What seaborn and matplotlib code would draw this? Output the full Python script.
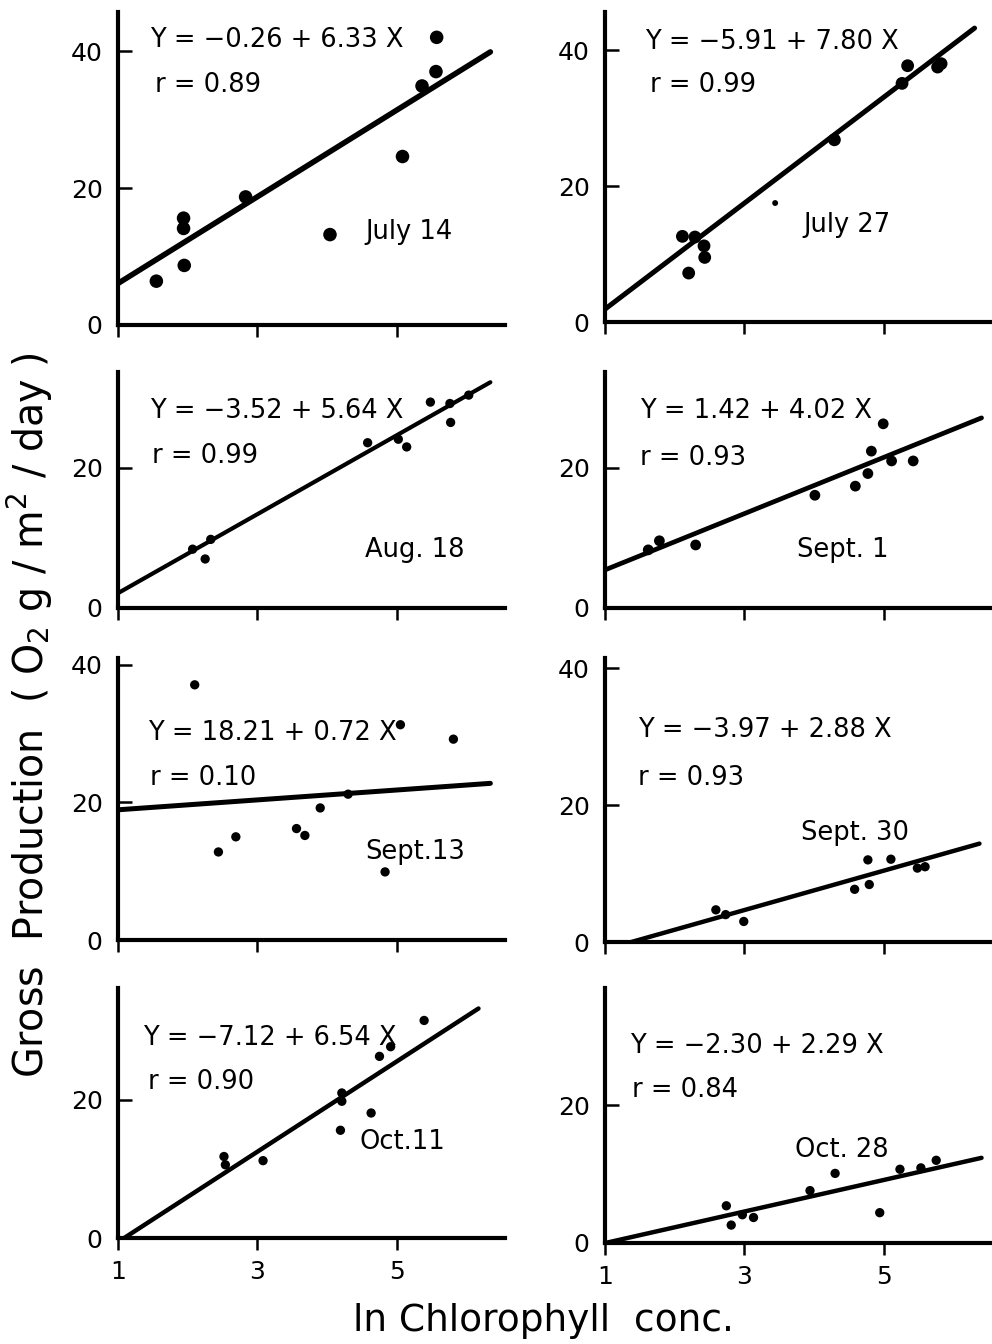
import matplotlib.pyplot as plt
import numpy as np
import pandas as pd
import seaborn as sns

# ---- data ----
dates = ["July 14", "July 27", "Aug. 18", "Sept. 1", "Sept.13", "Sept. 30", "Oct.11", "Oct. 28"]
intercepts = [-0.26, -5.91, -3.52, 1.42, 18.21, -3.97, -7.12, -2.30]
slopes = [6.33, 7.80, 5.64, 4.02, 0.72, 2.88, 6.54, 2.29]
r_values = [0.89, 0.99, 0.99, 0.93, 0.10, 0.93, 0.90, 0.84]
line_x_end = [6.34, 6.30, 6.34, 6.40, 6.34, 6.37, 6.17, 6.40]

july14_x = [1.55, 1.95, 1.94, 1.94, 2.83, 4.04, 5.08, 5.36, 5.56, 5.57]
july14_y = [6.4, 8.7, 15.6, 14.1, 18.7, 13.2, 24.6, 34.9, 37.0, 42.0]

july27_x = [2.11, 2.29, 2.42, 2.20, 2.43, 3.44, 4.29, 5.26, 5.34, 5.77, 5.82]
july27_y = [12.6, 12.5, 11.2, 7.2, 9.5, 17.5, 26.8, 35.1, 37.7, 37.5, 38.0]

aug18_x = [2.07, 2.33, 2.25, 4.58, 5.02, 5.14, 5.48, 5.76, 5.77, 6.03]
aug18_y = [8.4, 9.8, 7.0, 23.6, 24.1, 23.0, 29.4, 29.2, 26.5, 30.4]

sept1_x = [1.62, 1.78, 2.30, 4.01, 4.59, 4.77, 4.82, 4.99, 5.11, 5.42]
sept1_y = [8.3, 9.6, 9.0, 16.1, 17.4, 19.2, 22.4, 26.3, 21.0, 21.0]

sept13_x = [2.10, 2.44, 2.69, 3.56, 3.68, 3.90, 4.30, 4.83, 5.05, 5.81]
sept13_y = [37.1, 12.8, 15.0, 16.2, 15.2, 19.2, 21.2, 9.9, 31.3, 29.2]

sept30_x = [2.59, 2.73, 2.99, 4.58, 4.79, 4.77, 5.10, 5.48, 5.59]
sept30_y = [4.7, 4.0, 3.0, 7.7, 8.4, 12.0, 12.1, 10.8, 11.0]

oct11_x = [2.52, 2.54, 3.08, 4.21, 4.21, 4.19, 4.63, 4.75, 4.91, 5.39]
oct11_y = [11.8, 10.6, 11.2, 21.0, 19.8, 15.6, 18.1, 26.3, 27.7, 31.5]

oct28_x = [2.74, 2.81, 2.97, 3.13, 3.94, 4.30, 4.94, 5.23, 5.53, 5.75]
oct28_y = [5.4, 2.6, 4.1, 3.7, 7.6, 10.1, 4.4, 10.7, 10.9, 12.0]

panel_x = [july14_x, july27_x, aug18_x, sept1_x, sept13_x, sept30_x, oct11_x, oct28_x]
panel_y = [july14_y, july27_y, aug18_y, sept1_y, sept13_y, sept30_y, oct11_y, oct28_y]

y_ticks = [[0, 20, 40], [0, 20, 40], [0, 20], [0, 20], [0, 20, 40], [0, 20, 40], [0, 20], [0, 20]]
x_ticks = [1, 3, 5]

# ---- layout (pixel boxes of the 992x1344 page) ----
W, H = 992, 1344
# (left, top, right, bottom) in pixels
boxes = [
    (118, 12, 505, 325), (605, 12, 992, 322),
    (118, 372, 505, 608), (605, 372, 992, 608),
    (118, 658, 505, 940), (605, 658, 992, 942),
    (118, 988, 505, 1238), (605, 988, 992, 1243),
]
y_top = [45.7, 45.6, 33.7, 33.7, 41.0, 41.5, 36.2, 37.0]
eq_pos = [(0.083, 0.911), (0.103, 0.903), (0.083, 0.835), (0.09, 0.835),
          (0.078, 0.734), (0.085, 0.747), (0.065, 0.80), (0.065, 0.773)]
r_pos = [(0.096, 0.767), (0.116, 0.765), (0.088, 0.644), (0.09, 0.636),
         (0.083, 0.574), (0.085, 0.577), (0.078, 0.624), (0.07, 0.60)]
date_pos = [(0.638, 0.297), (0.512, 0.313), (0.638, 0.246), (0.496, 0.246),
            (0.638, 0.312), (0.506, 0.384), (0.625, 0.384), (0.491, 0.365)]
point_size = [95, 85, 45, 60, 45, 45, 45, 45]
line_width = [4.0, 3.6, 3.0, 3.4, 3.6, 3.2, 3.2, 3.2]

sns.set_theme(style="ticks")
plt.rcParams["font.family"] = ["DejaVu Sans"]
plt.rcParams["axes.edgecolor"] = "black"
plt.rcParams["text.color"] = "black"

fig = plt.figure(figsize=(W / 100, H / 100), dpi=100)
fig.patch.set_facecolor("white")

for i in range(8):
    left, top, right, bottom = boxes[i]
    ax = fig.add_axes([left / W, 1 - bottom / H, (right - left) / W, (bottom - top) / H])
    ax.set_facecolor("white")

    pts = pd.DataFrame({"x": panel_x[i], "y": panel_y[i]})
    sizes = np.full(len(pts), point_size[i], dtype=float)
    if i == 1:
        sizes[5] = 18  # the tiny dot on July 27
    sns.scatterplot(data=pts, x="x", y="y", s=sizes, color="black", edgecolor="black",
                    linewidth=0, ax=ax, zorder=3, clip_on=False)

    a, b = intercepts[i], slopes[i]
    x0 = max(1.0, -a / b)
    fit = pd.DataFrame({"x": [x0, line_x_end[i]]})
    fit["y"] = a + b * fit["x"]
    sns.lineplot(data=fit, x="x", y="y", color="black", lw=line_width[i],
                 solid_capstyle="round", ax=ax, zorder=2)

    sign = "−" if a < 0 else ""
    eq = f"Y = {sign}{abs(a):.2f} + {b:.2f} X"
    ax.text(*eq_pos[i], eq, transform=ax.transAxes, fontsize=18.5, va="center", ha="left")
    ax.text(*r_pos[i], f"r = {r_values[i]:.2f}", transform=ax.transAxes, fontsize=18.5,
            va="center", ha="left")
    ax.text(*date_pos[i], dates[i], transform=ax.transAxes, fontsize=18.5, va="center", ha="left")

    ax.set_xlim(1, 6.55)
    ax.set_ylim(0, y_top[i])
    sns.despine(ax=ax)
    for side in ["left", "bottom"]:
        ax.spines[side].set_linewidth(3.0)
        ax.spines[side].set_color("black")

    ax.set_yticks(y_ticks[i])
    ax.set_xticks(x_ticks)
    ax.tick_params(axis="y", direction="in", length=10, width=1.8, pad=11,
                   labelsize=18, colors="black")
    ax.tick_params(axis="x", direction="out", length=8.5, width=1.8, pad=7,
                   labelsize=18, colors="black")
    if i < 6:
        ax.set_xticklabels([])
    ax.set_xlabel("")
    ax.set_ylabel("")

fig.text(0.03, 0.468, "Gross  Production  ( O$_2$ g / m$^2$ / day )",
         rotation=90, fontsize=28.5, ha="center", va="center")
fig.text(0.548, 0.017, "ln Chlorophyll  conc.", fontsize=27, ha="center", va="center")

fig.savefig("out.png", dpi=100, facecolor="white")
